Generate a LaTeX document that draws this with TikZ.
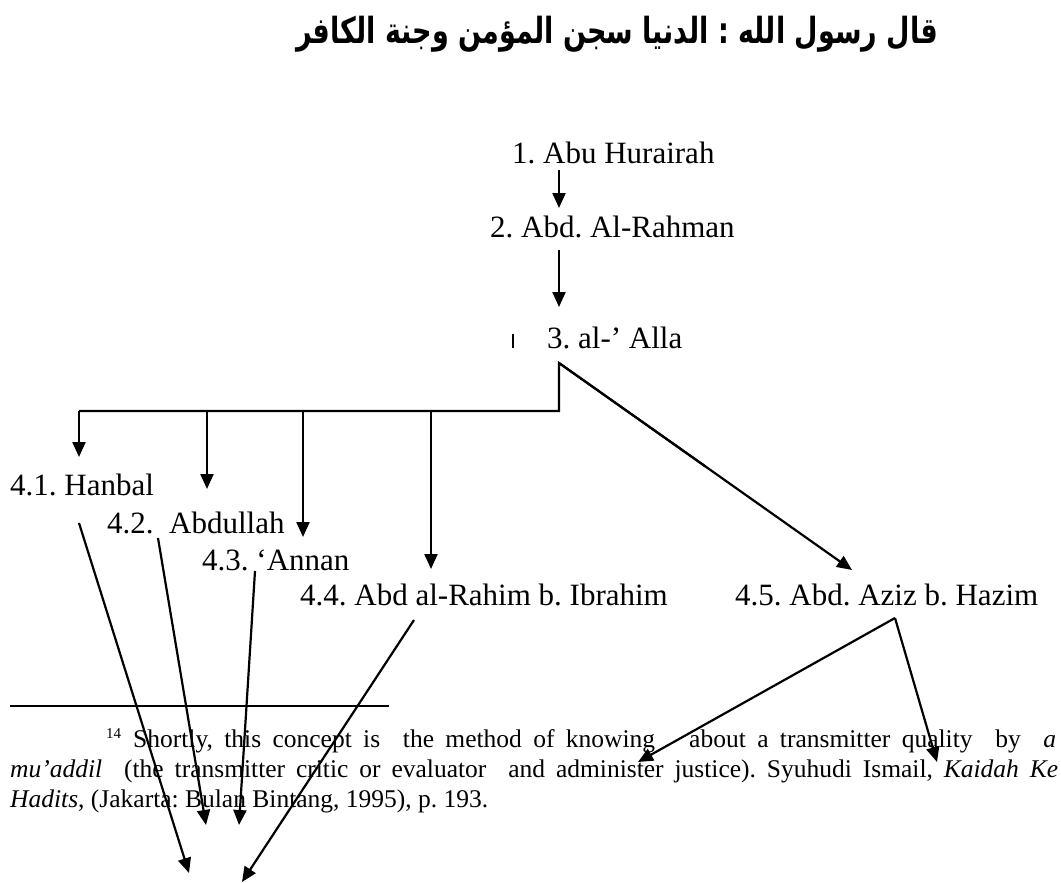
\documentclass[tikz,border=0pt]{standalone}
\usepackage{fontspec}
\setmainfont{Liberation Serif}
\newfontfamily\arabicfont[Script=Arabic]{DejaVu Sans}
\TeXXeTstate=1
\usetikzlibrary{arrows.meta,calc}
\newcommand\fgap{\hspace{5pt plus 1fill}}
\newcommand\fgapp{\hspace{10pt plus 2fill}}
\newcommand\fgappp{\hspace{15pt plus 3fill}}
\frenchspacing
\begin{document}
\begin{tikzpicture}[x=1pt,y=-1pt,
  lbl/.style={inner sep=0pt, anchor=base west, font=\fontsize{31}{36}\selectfont},
  fn/.style={inner sep=0pt, anchor=base west, font=\fontsize{25.5}{30}\selectfont},
  ttl/.style={inner sep=0pt, anchor=base, font=\fontsize{36}{42}\selectfont\arabicfont\bfseries},
  conn/.style={line width=2.2pt},
  arr/.style={conn, -{Triangle[length=15pt,width=13pt]}},
  rule/.style={line width=1.8pt}]
\useasboundingbox (0,0) rectangle (1061,883);
\fill[white] (0,0) rectangle (1061,883);

% title
\node[ttl] (t) at (617,44) {\scalebox{0.75}[1]{\beginR قال رسول الله : الدنيا سجن المؤمن وجنة الكافر\endR}};

% chain
\node[lbl] (n1) at (512,163) {1. Abu Hurairah};
\node[lbl] (n2) at (490,237) {2. Abd. Al-Rahman};
\node[lbl] (n3) at (547,348) {3. al-’ Alla};
\coordinate (tk1) at (513,334);
\coordinate (tk2) at (513,348);
\draw[line width=1.5pt] (tk1) -- (tk2);

\coordinate (a1s) at (559,170);
\coordinate (a1e) at (559,208);
\coordinate (a2s) at (559,250);
\coordinate (a2e) at (559,307);
\draw[arr] (a1s) -- (a1e);
\draw[arr] (a2s) -- (a2e);

% level 4
\node[lbl] (n41) at (10,495) {4.1. Hanbal};
\node[lbl] (n42) at (107,533) {4.2.\ \ Abdullah};
\node[lbl] (n43) at (202,570) {4.3. ‘Annan};
\node[lbl] (n44) at (300,605) {4.4. Abd al-Rahim b. Ibrahim};
\node[lbl] (n45) at (735,605) {4.5. Abd. Aziz b. Hazim};

\coordinate (top) at (559,363);
\coordinate (mid) at (559,411);
\coordinate (h1) at (79,411);
\coordinate (h2) at (207,411);
\coordinate (h3) at (303,411);
\coordinate (h4) at (431,411);
\coordinate (d1) at (79,457);
\coordinate (d2) at (207,489);
\coordinate (d3) at (303,537);
\coordinate (d4) at (431,569);
\coordinate (d5) at (852,570);
\draw[arr] (h1) -- (d1);
\draw[conn, line join=miter] (h1) -- (mid) -- (top) -- ($(top)!0.5!(d5)$);
\draw[arr] (h2) -- (d2);
\draw[arr] (h3) -- (d3);
\draw[arr] (h4) -- (d4);
\draw[arr] (top) -- (d5);

% lines to bottom
\coordinate (s1) at (79,523);
\coordinate (e1) at (189,873);
\coordinate (s2) at (158,538);
\coordinate (e2) at (206,825);
\coordinate (s3) at (255,571);
\coordinate (e3) at (239,825);
\coordinate (s4) at (414,620);
\coordinate (e4) at (242,882);
\coordinate (s5) at (895,618);
\coordinate (e5) at (638,762);
\coordinate (e6) at (937,762);
\draw[arr] (s1) -- (e1);
\draw[arr] (s2) -- (e2);
\draw[arr] (s3) -- (e3);
\draw[arr] (s4) -- (e4);
\draw[arr] (s5) -- (e5);
\draw[arr] (s5) -- (e6);

% footnote
\coordinate (r1) at (10,706);
\coordinate (r2) at (389,706);
\draw[rule] (r1) -- (r2);
\node[fn] (f1) at (106,747) {\makebox[950pt][l]{\raisebox{9pt}{\fontsize{15}{15}\selectfont 14}\hspace{12pt}Shortly,\fgap this\fgap concept\fgap is\fgapp the\fgap method\fgap of\fgap knowing\fgappp about\fgap a\fgap transmitter\fgap quality\fgapp by\fgapp \textit{a}}};
\node[fn] (f2) at (10,777) {\makebox[1048pt][l]{\textit{mu’addil}\fgapp(the\fgap transmitter\fgap critic\fgap or\fgap evaluator\fgapp and\fgap administer\fgap justice).\fgap Syuhudi\fgap Ismail,\fgap\textit{Kaidah}\fgap\textit{Ke}}};
\node[fn] (f3) at (10,807) {\textit{Hadits}, (Jakarta: Bulan Bintang, 1995), p. 193.};
\end{tikzpicture}
\end{document}
